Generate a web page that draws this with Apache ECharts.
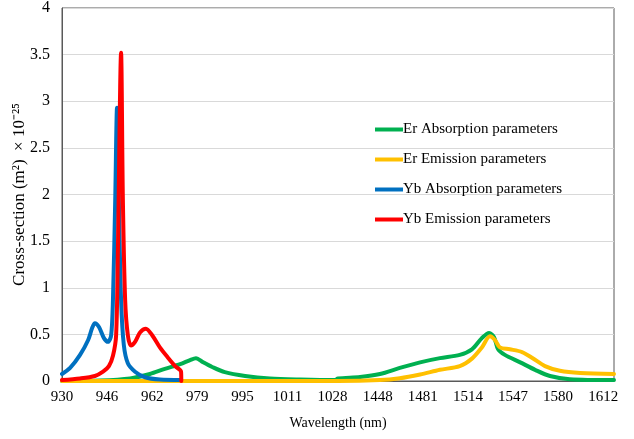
<!DOCTYPE html>
<html>
<head>
<meta charset="utf-8">
<script src="https://cdn.jsdelivr.net/npm/echarts@6/dist/echarts.min.js"></script>
<style>html,body{margin:0;padding:0;background:#fff}#c{width:634px;height:439px}</style>
</head>
<body>
<div id="c"></div>
<script>
// x = position along the wavelength axis, in tick-label intervals (0 = 930, 12 = 1612)
const tickLabels = ['930','946','962','979','995','1011','1028','1448','1481','1514','1547','1580','1612'];
const seriesNames = ['Er Absorption parameters','Er Emission parameters','Yb Absorption parameters','Yb Emission parameters'];

const erAbs = [[0,0],[0.84,0.005],[1.51,0.027],[1.95,0.075],[2.28,0.13],[2.62,0.18],[2.84,0.225],[2.97,0.245],[3.13,0.2],[3.33,0.15],[3.61,0.095],[4.06,0.054],[4.61,0.027],[5.28,0.016],[6.05,0.01],[6.12,0.027],[6.61,0.043],[7.05,0.075],[7.49,0.14],[7.94,0.2],[8.38,0.245],[8.82,0.28],[9.09,0.34],[9.31,0.46],[9.47,0.515],[9.58,0.47],[9.67,0.34],[9.82,0.28],[10.16,0.2],[10.49,0.12],[10.82,0.054],[11.26,0.02],[12.24,0.01]];
const erEm = [[0,0],[3,0],[6.12,0],[7.05,0.01],[7.49,0.03],[7.94,0.07],[8.38,0.12],[8.82,0.16],[9.09,0.24],[9.31,0.36],[9.49,0.48],[9.6,0.44],[9.71,0.36],[9.93,0.34],[10.2,0.31],[10.42,0.25],[10.71,0.16],[11.04,0.11],[11.49,0.086],[12.24,0.075]];
const ybAbs = [[0,0.075],[0.18,0.14],[0.4,0.28],[0.58,0.44],[0.67,0.57],[0.73,0.62],[0.82,0.58],[0.93,0.46],[1.02,0.42],[1.09,0.49],[1.13,0.87],[1.18,1.94],[1.22,2.93],[1.26,1.94],[1.31,0.87],[1.37,0.39],[1.46,0.19],[1.62,0.1],[1.84,0.04],[2.17,0.015],[2.64,0.01]];
const ybEm = [[0,0.01],[0.4,0.027],[0.73,0.054],[0.91,0.1],[1.04,0.16],[1.13,0.27],[1.2,0.49],[1.24,1.41],[1.31,3.52],[1.35,1.94],[1.4,0.87],[1.46,0.49],[1.53,0.38],[1.62,0.42],[1.73,0.52],[1.86,0.56],[2.0,0.49],[2.17,0.36],[2.35,0.25],[2.51,0.16],[2.64,0.1],[2.645,0]];

const colors = ['#00b050','#ffc000','#0070c0','#ff0000'];
const font = '"Liberation Serif","Times New Roman",serif';
const chart = echarts.init(document.getElementById('c'));
const mk = (name, data, i) => ({
  name, type:'line', data, showSymbol:false, smooth:0.3,
  lineStyle:{width:4, color:colors[i], cap:'round', join:'round'}, itemStyle:{color:colors[i]}, z:2+i
});
chart.setOption({
  animation:false,
  textStyle:{fontFamily:font},
  grid:{left:62, right:20, top:8, bottom:58, show:true, borderColor:'#595959', borderWidth:1, containLabel:false, outerBoundsMode:'none'},
  legend:{
    orient:'vertical', left:370, top:117, itemGap:15, itemWidth:28, itemHeight:4, icon:'rect',
    textStyle:{fontFamily:font, fontSize:15, color:'#000', lineHeight:15, padding:[0,0,0,-5]},
    data:seriesNames
  },
  xAxis:{
    type:'value', min:0, max:12.24, interval:1,
    name:'Wavelength (nm)', nameLocation:'middle', nameGap:35, nameMoveOverlap:false,
    nameTextStyle:{fontFamily:font, fontSize:14, color:'#000'},
    axisLine:{lineStyle:{color:'#595959'}}, axisTick:{show:false}, splitLine:{show:false},
    axisLabel:{fontFamily:font, fontSize:15, color:'#000', margin:9,
      formatter:v => (Math.abs(v-Math.round(v))<1e-6 && tickLabels[Math.round(v)]) ? tickLabels[Math.round(v)] : ''}
  },
  yAxis:{
    type:'value', min:0, max:4, interval:0.5,
    name:'Cross-section (m\u00b2)  \u00d7 10\u207b\u00b2\u2075', nameLocation:'middle', nameGap:34, nameMoveOverlap:false,
    nameTextStyle:{fontFamily:font, fontSize:17, color:'#000'},
    axisLine:{show:true, lineStyle:{color:'#595959'}}, axisTick:{show:false},
    splitLine:{lineStyle:{color:'#d9d9d9', width:1}},
    axisLabel:{fontFamily:font, fontSize:16, color:'#000', margin:12}
  },
  series:[mk(seriesNames[0], erAbs, 0), mk(seriesNames[1], erEm, 1), mk(seriesNames[2], ybAbs, 2), mk(seriesNames[3], ybEm, 3)]
});
</script>
</body>
</html>
